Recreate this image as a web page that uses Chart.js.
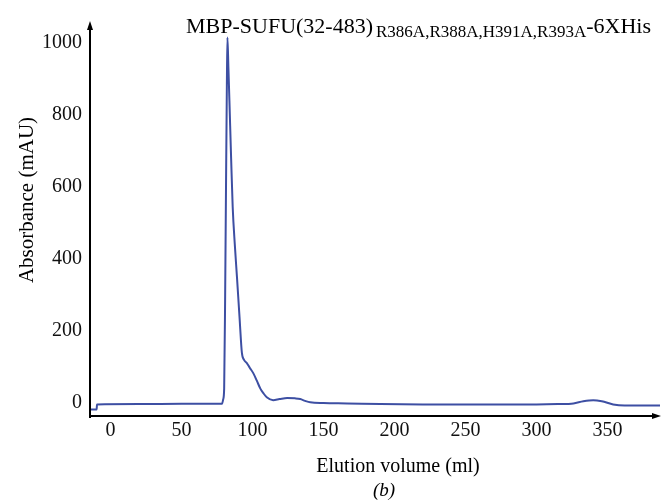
<!DOCTYPE html>
<html>
<head>
<meta charset="utf-8">
<style>
  html, body { margin: 0; padding: 0; background: #fff; }
  #wrap { width: 661px; height: 502px; position: relative; }
</style>
<script src="https://cdn.jsdelivr.net/npm/chart.js@4.4.1/dist/chart.umd.min.js"></script>
</head>
<body>
<div id="wrap"><canvas id="sec" width="661" height="502"></canvas></div>
<script>
'use strict';

// --- data ---
const volumeMl = [
  -14.5, -9.8, -9.6, 20, 50, 78.5, 79.3, 80, 80.7, 81.3, 81.9, 82.3, 83.0, 83.7,
  84.9, 86.0, 87.5, 89, 90.8, 92.5, 94, 96, 98, 100.5, 103, 105.5, 107.5, 110,
  114.5, 119, 124.4, 130, 133.6, 137, 140.6, 150, 166.6, 190, 220, 260, 300,
  315, 326, 333, 340, 346, 354, 362, 387
];
const absorbance = [
  -18, -18, -4, -3, -2, -2, 10, 40, 300, 600, 880, 1015, 930, 840,
  680, 545, 440, 351, 240, 139, 120, 111, 98, 83, 62, 40, 28, 16,
  8, 11, 14, 13, 11, 6, 2, 0, -1, -3, -4, -4, -4,
  -3, -1, 5, 8, 5, -4, -7, -7
];
const xTicks = [0, 50, 100, 150, 200, 250, 300, 350];
const yTicks = [0, 200, 400, 600, 800, 1000];

const SERIF = '"Liberation Serif", "DejaVu Serif", serif';

// axes with arrow heads + titles (subscript title can't go through Chart.js title)
const decor = {
  id: 'decor',
  afterDraw(chart) {
    const { ctx, chartArea: a } = chart;
    ctx.save();
    ctx.strokeStyle = '#000';
    ctx.fillStyle = '#000';
    ctx.lineWidth = 2;
    ctx.beginPath();
    ctx.moveTo(a.left, a.bottom + 2);
    ctx.lineTo(a.left, a.top + 4);
    ctx.moveTo(a.left - 1, a.bottom);
    ctx.lineTo(a.right - 4, a.bottom);
    ctx.stroke();
    // arrows
    ctx.beginPath();
    ctx.moveTo(a.left, a.top - 1);
    ctx.lineTo(a.left - 3, a.top + 8);
    ctx.lineTo(a.left + 3, a.top + 8);
    ctx.closePath();
    ctx.fill();
    ctx.beginPath();
    ctx.moveTo(a.right + 1, a.bottom);
    ctx.lineTo(a.right - 8, a.bottom - 3);
    ctx.lineTo(a.right - 8, a.bottom + 3);
    ctx.closePath();
    ctx.fill();

    // title
    ctx.textBaseline = 'alphabetic';
    ctx.textAlign = 'left';
    let x = 186;
    ctx.font = '22px ' + SERIF;
    ctx.fillText('MBP-SUFU(32-483)', x, 33);
    x += ctx.measureText('MBP-SUFU(32-483)').width + 3;
    ctx.font = '17px ' + SERIF;
    ctx.fillText('R386A,R388A,H391A,R393A', x, 37);
    x += ctx.measureText('R386A,R388A,H391A,R393A').width;
    ctx.font = '22px ' + SERIF;
    ctx.fillText('-6XHis', x, 33);

    // axis titles
    ctx.textAlign = 'center';
    ctx.textBaseline = 'middle';
    ctx.font = '20px ' + SERIF;
    ctx.fillText('Elution volume (ml)', 398, 467);
    ctx.font = 'italic 19px ' + SERIF;
    ctx.fillText('(b)', 384, 491);
    ctx.save();
    ctx.translate(27, 200);
    ctx.rotate(-Math.PI / 2);
    ctx.font = '21px ' + SERIF;
    ctx.fillText('Absorbance (mAU)', 0, 0);
    ctx.restore();
    ctx.restore();
  }
};

new Chart(document.getElementById('sec').getContext('2d'), {
  type: 'line',
  data: {
    datasets: [{
      label: 'A280',
      data: volumeMl.map((v, i) => ({ x: v, y: absorbance[i] })),
      borderColor: '#3d4fa3',
      borderWidth: 2,
      pointRadius: 0,
      cubicInterpolationMode: 'monotone',
      fill: false,
    }],
  },
  options: {
    responsive: false,
    animation: false,
    layout: { padding: { top: 22, right: 1, left: 0, bottom: 0 } },
    plugins: { legend: { display: false }, tooltip: { enabled: false } },
    scales: {
      x: {
        type: 'linear',
        min: -14.5,
        max: 387,
        afterBuildTicks: s => { s.ticks = xTicks.map(v => ({ value: v })); },
        afterFit: s => { s.height = 86; },
        grid: { display: false, drawTicks: false },
        border: { display: false },
        ticks: { color: '#111', font: { family: SERIF, size: 20 }, padding: 3, maxRotation: 0, callback: v => String(v) },
      },
      y: {
        min: -36,
        max: 1058,
        afterBuildTicks: s => { s.ticks = yTicks.map(v => ({ value: v })); },
        afterFit: s => { s.width = 90; },
        grid: { display: false, drawTicks: false },
        border: { display: false },
        ticks: { color: '#111', font: { family: SERIF, size: 20 }, padding: 8, callback: v => String(v) },
      },
    },
  },
  plugins: [decor],
});
</script>
</body>
</html>
